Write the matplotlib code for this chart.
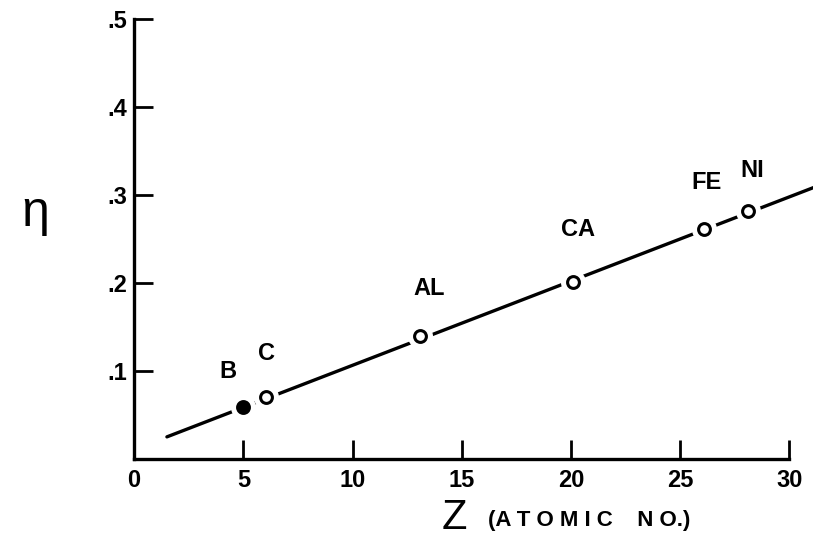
import matplotlib.pyplot as plt

# Measured points (atomic number Z vs eta)
elements = ["B", "C", "AL", "CA", "FE", "NI"]
z_values = [5.0, 6.05, 13.1, 20.1, 26.1, 28.1]
eta_values = [0.059, 0.070, 0.139, 0.201, 0.261, 0.282]
filled = [True, False, False, False, False, False]

# Fitted straight line
line_z = [1.5, 31.2]
line_eta = [0.025, 0.309]

# Label positions relative to each point (data units)
label_dz = [-0.7, 0.0, 0.4, 0.2, 0.1, 0.2]
label_deta = [0.040, 0.050, 0.055, 0.060, 0.053, 0.046]

x_ticks = [0, 5, 10, 15, 20, 25, 30]
y_ticks = [0.1, 0.2, 0.3, 0.4, 0.5]
y_tick_labels = [".1", ".2", ".3", ".4", ".5"]

plt.rcParams["font.family"] = ["Liberation Sans", "DejaVu Sans"]

fig = plt.figure(figsize=(8.13, 5.45), dpi=100)
ax = fig.add_axes([0.165, 0.158, 0.806, 0.808])

ax.plot(line_z, line_eta, color="black", lw=2.4, solid_capstyle="round", clip_on=False, zorder=2)

# white halo so the line breaks around each circle
ax.plot(z_values, eta_values, "o", ms=17, color="white", mec="white", zorder=3, clip_on=False)
for z, eta, f in zip(z_values, eta_values, filled):
    ax.plot(z, eta, "o", ms=8.5, mfc="black" if f else "white", mec="black", mew=2.2, zorder=4)

for name, z, eta, dz, de in zip(elements, z_values, eta_values, label_dz, label_deta):
    ax.text(z + dz, eta + de, name, ha="center", va="center", fontsize=17, fontweight="bold")

ax.set_xlim(0, 30)
ax.set_ylim(0, 0.5)
ax.spines["top"].set_visible(False)
ax.spines["right"].set_visible(False)
ax.spines["left"].set_linewidth(2.4)
ax.spines["bottom"].set_linewidth(2.4)

ax.set_xticks(x_ticks)
ax.set_yticks(y_ticks)
ax.set_yticklabels(y_tick_labels)
ax.tick_params(direction="in", length=14, width=2.0, labelsize=17, pad=7)
ax.tick_params(axis="y", pad=5)
for lab in ax.get_xticklabels() + ax.get_yticklabels():
    lab.set_fontweight("bold")

fig.text(0.559, 0.012, "Z", fontsize=30, ha="center", va="bottom")
fig.text(0.600, 0.025, "(A T O M I C    N O.)", fontsize=16, fontweight="bold", ha="left", va="bottom")
fig.text(0.043, 0.61, "η", fontsize=36, ha="center", va="center")

fig.savefig("out.png", dpi=100, facecolor="white")
